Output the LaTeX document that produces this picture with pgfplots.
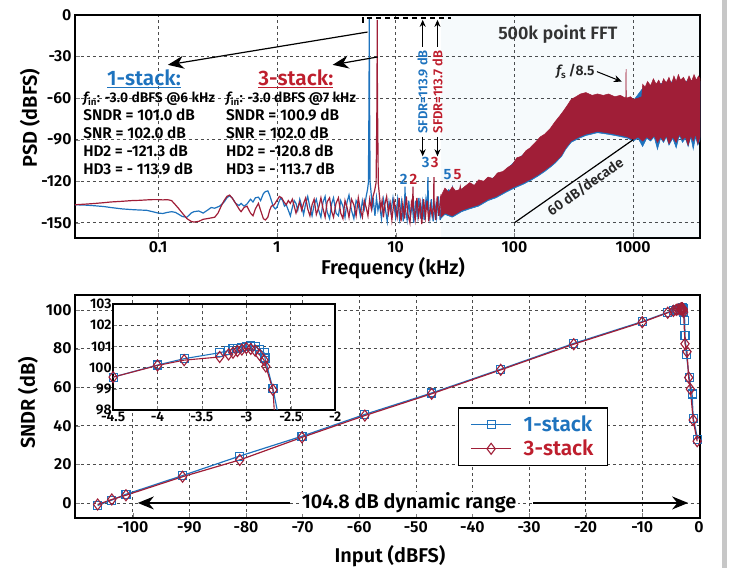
\documentclass[border=0pt]{standalone}
\usepackage{pgfplots}
\pgfplotsset{compat=1.18}
\usepackage{pgfplotstable}
\usetikzlibrary{arrows.meta}
\usepackage{fontspec}
\setmainfont{Fira Sans}[BoldFont={Fira Sans SemiBold}, BoldItalicFont={Fira Sans SemiBold Italic}]

\definecolor{cblue}{RGB}{30,115,190}
\definecolor{cred}{RGB}{160,30,55}
\definecolor{tred}{RGB}{190,30,45}

\newcommand{\fs}[1]{\fontsize{#1}{#1}\selectfont\bfseries}

% SNDR vs input level
\pgfplotstableread{
x y
-106.2 -1.3
-103.7 1.5
-101.2 4.5
-91.2 14.2
-81.1 24.3
-70.1 34.6
-59.0 45.9
-47.2 57.0
-35.0 69.3
-22.1 82.7
-10.0 94.0
-5.5 98.8
-4.5 99.55
-4.0 100.12
-3.7 100.42
-3.3 100.7
-3.2 100.8
-3.15 100.88
-3.1 100.92
-3.05 100.96
-3.0 101.0
-2.95 101.05
-2.9 101.0
-2.85 100.85
-2.8 100.7
-2.79 100.45
-2.7 99.0
-2.5 94.8
-2.45 87.0
-2.2 76.8
-1.7 64.8
-1.2 56.5
-1.0 44.0
-0.2 33.0
}\onestack

\pgfplotstableread{
x y
-106.2 -0.8
-103.7 1.8
-101.2 4.0
-91.2 13.6
-81.1 22.3
-70.1 34.0
-59.0 45.3
-47.2 56.6
-35.0 69.0
-22.1 82.3
-10.0 93.7
-5.5 98.6
-4.5 99.55
-4.0 100.1
-3.7 100.35
-3.3 100.5
-3.2 100.62
-3.15 100.7
-3.1 100.78
-3.05 100.85
-3.0 100.92
-2.95 100.88
-2.9 100.8
-2.85 100.6
-2.8 100.35
-2.78 100.05
-2.7 98.95
-2.45 82.5
-2.1 78.4
-1.8 65.0
-1.5 59.0
-1.0 43.0
-0.3 32.0
}\threestack

\begin{document}
\begin{tikzpicture}
\useasboundingbox (0,0) rectangle (731bp,568bp);
\fill[black!22] (722bp,0) rectangle (727bp,568bp);

% ---------------- PSD ----------------
\begin{axis}[
  at={(75bp,330bp)}, anchor=south west,
  scale only axis, width=625bp, height=223bp,
  xmode=log, log basis x=10,
  xmin=0.02, xmax=3650, ymin=-161, ymax=0,
  xtick={0.1,1,10,100,1000}, xticklabels={0.1,1,10,100,1000},
  ytick={-150,-120,-90,-60,-30,0},
  tick pos=left, tick align=inside,
  major tick length=5bp, minor tick length=3bp,
  grid=major, xminorgrids=true,
  major grid style={dashed, black!70, line width=0.6bp},
  minor grid style={densely dotted, black!40, line width=0.4bp},
  axis line style={line width=1.6bp},
  /pgf/number format/assume math mode=true,
  tick label style={font=\fs{16}},
]
% light background of the region above the signal band
\addplot[fill=cblue, fill opacity=0.04, draw=none]
  coordinates {(24,-161) (3650,-161) (3650,0) (24,0)} -- cycle;

% 1-stack, up to the signal band edge
\addplot[cblue, line width=1.2bp] coordinates {
(0.02,-137) (0.025,-137.3) (0.03,-137.8) (0.035,-138.3) (0.04,-139) (0.05,-140)
(0.06,-140.5) (0.07,-140.8) (0.08,-141) (0.09,-142) (0.1,-143) (0.11,-143.3)
(0.12,-142.5) (0.13,-142) (0.14,-142.5) (0.15,-144) (0.16,-145.5) (0.175,-146)
(0.19,-143) (0.2,-142) (0.22,-141.5) (0.24,-143) (0.26,-141) (0.28,-139)
(0.3,-139.5) (0.33,-138) (0.36,-135) (0.38,-132) (0.4,-130.5) (0.42,-132)
(0.45,-136) (0.48,-137.5) (0.5,-136) (0.53,-138) (0.56,-136.5) (0.6,-133)
(0.63,-135) (0.66,-132) (0.7,-131.5) (0.73,-134) (0.77,-129) (0.8,-127.5)
(0.84,-127) (0.87,-130) (0.9,-134) (0.93,-138) (0.97,-140) (1.0,-139)
(1.04,-135) (1.08,-132) (1.12,-134) (1.16,-138) (1.2,-137) (1.25,-141)
(1.3,-145) (1.35,-139) (1.4,-134) (1.45,-136) (1.5,-141) (1.56,-133)
(1.62,-138) (1.68,-144) (1.75,-136) (1.82,-131) (1.9,-139) (1.98,-145)
(2.06,-137) (2.15,-133) (2.25,-141) (2.35,-146) (2.45,-135) (2.55,-131)
(2.65,-142) (2.78,-147) (2.9,-136) (3.0,-132) (3.15,-143) (3.3,-145)
(3.45,-134) (3.6,-138) (3.75,-146) (3.9,-135) (4.05,-130) (4.25,-141)
(4.45,-147) (4.65,-134) (4.85,-137) (5.05,-145) (5.25,-134) (5.45,-140)
(5.65,-131) (5.8,-126) (5.9,-121) (5.97,-60) (6.0,-3) (6.03,-60) (6.1,-121)
(6.2,-127) (6.35,-139) (6.5,-134) (6.7,-145) (6.9,-132) (7.1,-141) (7.3,-136)
(7.6,-147) (7.9,-133) (8.2,-140) (8.5,-149) (8.8,-135) (9.1,-142) (9.5,-132)
(10,-146) (10.4,-133) (10.8,-147) (11.2,-135) (11.6,-149) (11.9,-137)
(12.0,-124) (12.1,-140) (12.5,-148) (12.9,-134) (13.3,-146) (13.8,-136)
(14.2,-150) (14.7,-134) (15.2,-145) (15.7,-132) (16.2,-147) (16.8,-135)
(17.4,-148) (18.0,-133) (18.5,-141) (18.7,-117) (18.9,-140) (19.4,-147)
(20.0,-133) (20.7,-149) (21.4,-136) (22.1,-146) (22.9,-131) (23.7,-148)
(24.5,-135)
};
% 1-stack, noise band
\addplot[fill=cblue, draw=cblue, line width=0.5bp] coordinates {
(24,-133) (26,-129) (28,-126) (29.9,-128) (30.0,-123) (30.1,-128) (33,-127)
(38,-125) (45,-123) (55,-121) (65,-118) (80,-114) (100,-106) (130,-98)
(160,-91) (200,-84) (250,-72) (300,-63) (400,-58) (500,-59) (700,-60)
(860,-61) (1000,-62) (1200,-53) (1600,-50) (2000,-48) (2500,-49) (3000,-47)
(3650,-48)
(3650,-90) (3500,-94) (3350,-88) (3200,-97) (3050,-88) (2900,-95) (2750,-89)
(2600,-92) (2450,-87) (2300,-96) (2150,-89) (2000,-94) (1900,-88) (1800,-92)
(1700,-89) (1600,-97) (1500,-88) (1400,-91) (1300,-89) (1200,-95) (1100,-89)
(1000,-91) (900,-89) (800,-88) (700,-87) (600,-86) (500,-85) (450,-86)
(400,-87) (350,-89) (300,-92) (270,-97) (250,-102) (220,-107) (200,-110)
(180,-113) (160,-116) (140,-119) (120,-122) (100,-125) (85,-128) (70,-132)
(60,-134) (50,-138) (42,-140) (36,-142) (30,-146) (26,-144) (24,-147)
} -- cycle;

% 3-stack, up to the signal band edge
\addplot[cred, line width=1.2bp] coordinates {
(0.02,-137) (0.025,-136.5) (0.03,-136) (0.035,-135.5) (0.04,-135) (0.05,-134.5)
(0.06,-134) (0.07,-133.8) (0.08,-133.5) (0.09,-133.3) (0.1,-133.3) (0.11,-133.5)
(0.12,-133.3) (0.13,-134) (0.14,-137) (0.15,-140) (0.16,-143) (0.175,-147)
(0.19,-149) (0.2,-149.5) (0.22,-149) (0.24,-147.5) (0.26,-147) (0.28,-146.5)
(0.3,-146) (0.32,-143) (0.34,-138) (0.36,-134) (0.38,-131) (0.4,-130)
(0.42,-132) (0.45,-136) (0.48,-140) (0.5,-142) (0.53,-139) (0.56,-138)
(0.6,-143) (0.63,-145) (0.66,-140) (0.7,-136) (0.73,-141) (0.77,-147)
(0.8,-148) (0.84,-146) (0.87,-141) (0.9,-138) (0.95,-137) (1.0,-134)
(1.05,-131) (1.1,-132) (1.15,-135) (1.2,-137) (1.25,-134) (1.3,-136)
(1.35,-133) (1.4,-138) (1.45,-143) (1.5,-139) (1.56,-135) (1.62,-141)
(1.68,-136) (1.75,-132) (1.82,-140) (1.9,-145) (1.98,-137) (2.06,-133)
(2.15,-144) (2.25,-139) (2.35,-132) (2.45,-140) (2.55,-146) (2.65,-135)
(2.78,-132) (2.9,-142) (3.0,-146) (3.15,-136) (3.3,-132) (3.45,-143)
(3.6,-147) (3.75,-134) (3.9,-139) (4.05,-146) (4.25,-133) (4.45,-137)
(4.65,-145) (4.85,-132) (5.05,-141) (5.25,-146) (5.45,-134) (5.65,-139)
(5.85,-145) (6.05,-133) (6.25,-140) (6.45,-131) (6.65,-127) (6.85,-121)
(6.97,-60) (7.0,-3.5) (7.03,-60) (7.15,-122) (7.3,-130) (7.5,-140) (7.7,-134)
(7.9,-146) (8.1,-137) (8.4,-131) (8.7,-143) (9.0,-136) (9.3,-148) (9.7,-134)
(10,-140) (10.3,-146) (10.7,-132) (11.1,-149) (11.5,-136) (11.9,-147)
(12.3,-131) (12.7,-144) (13.2,-150) (13.6,-135) (13.9,-138) (14.0,-124)
(14.1,-139) (14.6,-148) (15.1,-132) (15.6,-145) (16.1,-136) (16.6,-151)
(17.2,-133) (17.8,-146) (18.4,-134) (19.0,-149) (19.6,-137) (20.3,-145)
(20.9,-138) (21.0,-117) (21.1,-137) (21.7,-148) (22.4,-131) (23.1,-145)
(23.9,-133) (24.6,-142)
};
% 3-stack, noise band
\addplot[fill=cred, draw=cred, line width=0.5bp] coordinates {
(24,-131) (26,-125) (28,-128) (30,-124) (32,-127) (34.5,-126) (35.0,-123)
(35.5,-126) (38,-124) (42,-121) (46,-123) (50,-119) (55,-120) (60,-117)
(66,-118) (72,-114) (80,-113) (88,-110) (96,-108) (105,-103) (115,-102)
(125,-98) (135,-96) (150,-92) (165,-88) (180,-86) (200,-82) (220,-77)
(240,-73) (260,-69) (280,-65) (300,-61) (330,-59) (360,-57) (400,-56)
(450,-58) (500,-57) (560,-58) (620,-57) (700,-59) (780,-58) (860,-60)
(865,-60) (870,-39) (875,-60) (950,-59) (1000,-61) (1100,-60) (1180,-59)
(1200,-50) (1260,-52) (1320,-48) (1400,-51) (1480,-46) (1560,-50) (1640,-47)
(1720,-51) (1800,-46) (1900,-49) (2000,-45) (2100,-50) (2200,-44) (2300,-48)
(2400,-43) (2500,-47) (2650,-45) (2800,-49) (2950,-44) (3100,-48) (3250,-43)
(3400,-47) (3550,-44) (3650,-46)
(3650,-88) (3500,-93) (3350,-86) (3200,-91) (3050,-87) (2900,-94) (2750,-88)
(2600,-90) (2450,-86) (2300,-92) (2150,-88) (2000,-93) (1900,-87) (1800,-91)
(1700,-88) (1600,-92) (1500,-87) (1400,-90) (1300,-88) (1200,-91) (1100,-88)
(1000,-90) (900,-88) (800,-87) (700,-86) (600,-85) (500,-84) (450,-85)
(400,-86) (350,-88) (300,-91) (270,-96) (250,-101) (220,-106) (200,-109)
(180,-112) (160,-115) (140,-118) (120,-121) (100,-124) (85,-127) (70,-131)
(60,-133) (50,-137) (42,-139) (36,-141) (30,-145) (26,-143) (24,-146)
} -- cycle;

% annotations
\draw[dash pattern=on 5bp off 4bp, line width=1.8bp] (axis cs:5.3,-5.5) -- (axis cs:5.3,-2.3) -- (axis cs:29,-2.3);
\draw[-{Stealth[length=16bp,width=13bp]}, line width=1.2bp] (axis cs:5.8,-12.3) -- (axis cs:0.121,-36);
\draw[-{Stealth[length=16bp,width=13bp]}, line width=1.2bp] (axis cs:7.06,-30.3) -- (axis cs:2.95,-36);

\node[font=\fs{21}, text=cblue, inner sep=1bp] at (axis cs:0.0762,-46) {\underline{1-stack:}};
\node[font=\fs{21}, text=tred, inner sep=1bp] at (axis cs:1.445,-46) {\underline{3-stack:}};
\node[anchor=north west, align=left, inner sep=0, font=\fontsize{15.5}{18}\selectfont\bfseries]
  at (axis cs:0.0234,-55.5)
  {{\fontsize{14}{18}\selectfont{\itshape f}\textsubscript{in}: -3.0 dBFS @6 kHz}\\SNDR = 101.0 dB\\SNR = 102.0 dB\\HD2 = -121.3 dB\\HD3 = - 113.9 dB};
\node[anchor=north west, align=left, inner sep=0, font=\fontsize{15.5}{18}\selectfont\bfseries]
  at (axis cs:0.372,-55.5)
  {{\fontsize{14}{18}\selectfont{\itshape f}\textsubscript{in}: -3.0 dBFS @7 kHz}\\SNDR = 100.9 dB\\SNR = 102.0 dB\\HD2 = -120.8 dB\\HD3 = - 113.7 dB};

\draw[-{Stealth[length=7bp,width=6bp]}, line width=0.9bp] (axis cs:16.9,-23) -- (axis cs:16.9,-3.5);
\draw[-{Stealth[length=7bp,width=6bp]}, line width=0.9bp] (axis cs:16.9,-88) -- (axis cs:16.9,-102);
\draw[-{Stealth[length=7bp,width=6bp]}, line width=0.9bp] (axis cs:22.5,-23) -- (axis cs:22.5,-3.5);
\draw[-{Stealth[length=7bp,width=6bp]}, line width=0.9bp] (axis cs:22.5,-88) -- (axis cs:22.5,-102);
\node[rotate=90, font=\fs{13}, text=cblue, inner sep=0] at (axis cs:16.9,-55.5) {SFDR=113.9 dB};
\node[rotate=90, font=\fs{13}, text=tred, inner sep=0] at (axis cs:22.5,-55.5) {SFDR=113.7 dB};

\node[font=\fs{15}, text=cblue] at (axis cs:11.7,-119) {2};
\node[font=\fs{15}, text=tred] at (axis cs:14.1,-119) {2};
\node[font=\fs{15}, text=cblue] at (axis cs:17.9,-106.7) {3};
\node[font=\fs{15}, text=tred] at (axis cs:21.3,-106.7) {3};
\node[font=\fs{15}, text=cblue] at (axis cs:27.3,-115.4) {5};
\node[font=\fs{15}, text=tred] at (axis cs:33.2,-115.4) {5};

\node[font=\fs{18}, text=black!80] at (axis cs:232,-13.7) {500k point FFT};
\node[font=\fs{14}, text=black!85] at (axis cs:326,-41) {{\itshape f}\textsubscript{s}\,/8.5};
\draw[-{Stealth[length=8bp,width=7bp]}, line width=1bp] (axis cs:495,-40.9) -- (axis cs:802,-48.1);
\draw[line width=1.2bp] (axis cs:100,-150) -- (axis cs:1000,-90);
\node[rotate=35, font=\fs{14}, text=black!85] at (axis cs:395,-124) {60 dB/decade};
\end{axis}
\node[font=\fs{20}] at (393bp,300bp) {Frequency (kHz)};
\node[font=\fs{20}, rotate=90] at (30bp,450bp) {PSD (dBFS)};

% ---------------- SNDR ----------------
\begin{axis}[
  at={(75bp,50bp)}, anchor=south west,
  scale only axis, width=625bp, height=223bp,
  xmin=-110.2, xmax=0.2, ymin=-7.8, ymax=107.8,
  xtick={-100,-90,...,0}, ytick={0,20,...,100},
  tick pos=left, tick align=inside, major tick length=5bp,
  grid=major,
  major grid style={dashed, black!70, line width=0.6bp},
  axis line style={line width=1.6bp},
  /pgf/number format/assume math mode=true,
  tick label style={font=\fs{16}},
  legend style={at={(axis cs:-42.6,49.7)}, anchor=north west,
    draw=black, line width=1.5bp, inner xsep=12bp, inner ysep=6bp,
    row sep=3bp},
  legend cell align=left,
  legend image code/.code={\draw[mark repeat=2, mark phase=2, line width=1.3bp]
    plot coordinates {(0bp,0bp) (20bp,0bp) (40bp,0bp)};},
]
\addplot[cblue, line width=1.2bp, mark=square, mark size=4bp,
  mark options={solid, fill=none, line width=1.1bp}] table {\onestack};
\addlegendentry{\fs{21}\hspace{10bp}\textcolor{cblue}{1-stack}\hspace{6bp}}
\addplot[cred, line width=1.2bp, mark=diamond, mark size=5.5bp,
  mark options={solid, fill=none, line width=1.1bp}] table {\threestack};
\addlegendentry{\fs{21}\hspace{10bp}\textcolor{tred}{3-stack}\hspace{6bp}}

\draw[-{Stealth[length=16bp,width=13bp]}, line width=1.3bp] (axis cs:-72.3,0) -- (axis cs:-99.1,0);
\draw[-{Stealth[length=16bp,width=13bp]}, line width=1.3bp] (axis cs:-29.3,0) -- (axis cs:-1.9,0);
\node[fill=white, inner xsep=2bp, inner ysep=1bp, font=\fs{20}] at (axis cs:-51.2,0) {104.8 dB dynamic range};
\end{axis}
\node[font=\fs{20}] at (390bp,12bp) {Input (dBFS)};
\node[font=\fs{20}, rotate=90] at (28bp,165bp) {SNDR (dB)};

% ---------------- inset ----------------
\begin{axis}[
  at={(113bp,158bp)}, anchor=south west,
  scale only axis, width=222bp, height=106bp,
  xmin=-4.5, xmax=-2, ymin=98, ymax=103,
  xtick={-4.5,-4,...,-2}, ytick={98,99,...,103},
  tick pos=left, tick align=inside, major tick length=4bp,
  grid=major,
  major grid style={dashed, black!70, line width=0.6bp},
  axis line style={line width=1.4bp},
  axis background/.style={fill=white},
  /pgf/number format/assume math mode=true,
  tick label style={font=\fs{14}},
  xticklabel style={yshift=2bp},
  yticklabel style={xshift=2bp},
]
\addplot[cblue, line width=1.1bp, mark=square, mark size=4bp,
  mark options={solid, fill=none, line width=1.1bp}] table {\onestack};
\addplot[cred, line width=1.1bp, mark=diamond, mark size=5.5bp,
  mark options={solid, fill=none, line width=1.1bp}] table {\threestack};
\end{axis}
\end{tikzpicture}
\end{document}
